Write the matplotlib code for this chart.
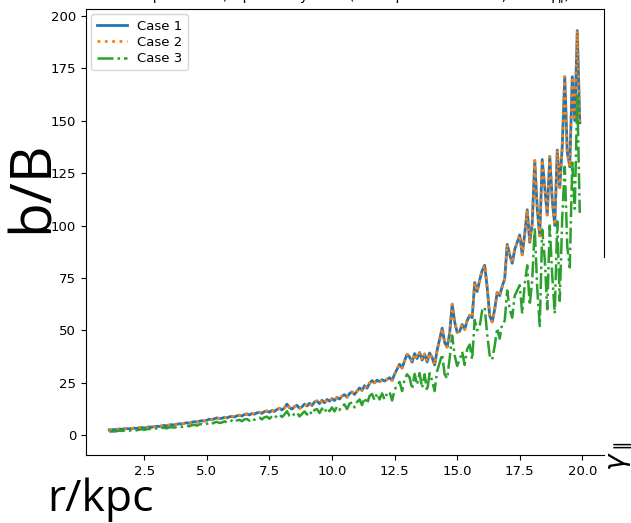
import numpy as np
import matplotlib
matplotlib.use("Agg")
import matplotlib.pyplot as plt

# radius grid (kpc), 0.1 kpc steps
r = np.round(np.arange(1.1, 19.95, 0.1), 2)

case1 = [
    2.5, 2.6, 2.6, 2.7, 2.9, 2.8, 3.0, 3.1, 3.0, 3.2,
    3.3, 3.2, 3.5, 3.6, 3.4, 3.7, 3.9, 3.8, 4.0, 4.2,
    4.1, 4.4, 4.6, 4.4, 4.8, 5.0, 4.8, 5.2, 5.4, 5.3,
    5.6, 5.9, 5.7, 6.1, 6.4, 6.2, 6.6, 6.9, 6.7, 7.1,
    7.6, 7.3, 7.8, 8.2, 7.9, 8.0, 8.5, 8.2, 8.7, 9.0,
    8.6, 9.2, 9.5, 9.1, 9.8, 10.1, 9.6, 10.3, 10.0, 10.6,
    10.9, 10.4, 11.2, 11.5, 10.9, 11.8, 11.3, 12.2, 12.8, 12.0,
    13.0, 14.8, 13.1, 12.4, 13.6, 14.2, 12.8, 13.5, 14.8, 13.9,
    15.2, 14.1, 15.8, 16.3, 15.0, 16.6, 15.4, 17.0, 16.2, 17.4,
    16.5, 18.0, 17.2, 18.6, 19.3, 18.1, 19.8, 20.6, 19.4, 21.0,
    22.5, 21.3, 23.6, 22.4, 24.8, 26.0, 24.9, 26.2, 25.5, 26.4,
    25.8, 26.6, 27.4, 26.1, 29.0, 31.5, 33.8, 32.0, 35.5, 38.6,
    37.2, 34.8, 38.9, 36.5, 39.4, 35.8, 38.7, 34.9, 39.2, 37.0,
    33.5, 40.5, 45.8, 51.0, 44.2, 42.0, 48.5, 62.5, 54.0, 49.0,
    49.5, 52.8, 50.4, 54.6, 57.2, 56.0, 72.8, 68.5, 74.0, 78.5,
    81.0, 70.5, 57.0, 54.0, 60.0, 68.0, 66.5, 71.0, 74.5, 91.0,
    86.0, 82.0, 88.5, 92.0, 95.5, 86.0, 96.0, 107.5, 92.0, 101.0,
    131.0, 108.0, 95.0, 131.5, 118.0, 105.0, 133.0, 112.0, 100.0, 136.0,
    118.0, 138.0, 171.0, 135.0, 128.0, 171.0, 150.0, 193.0, 149.0,
]

# case 2 lies exactly on top of case 1
case2 = list(case1)

case3 = [
    1.6, 1.8, 1.7, 1.9, 2.1, 2.0, 2.2, 2.3, 2.1, 2.4,
    2.5, 2.3, 2.6, 2.8, 2.5, 2.8, 3.0, 2.7, 3.1, 3.2,
    3.0, 3.4, 3.5, 3.2, 3.7, 3.8, 3.5, 4.0, 4.1, 3.9,
    4.3, 4.5, 4.2, 4.7, 4.9, 4.5, 5.1, 5.3, 4.9, 5.4,
    5.9, 5.4, 6.0, 6.3, 5.8, 6.0, 6.6, 6.0, 6.7, 6.9,
    6.2, 7.0, 7.3, 6.6, 7.5, 7.7, 6.9, 7.9, 7.3, 8.1,
    8.3, 7.5, 8.5, 8.8, 7.8, 9.0, 8.1, 9.3, 9.9, 8.6,
    9.8, 11.4, 9.2, 8.7, 10.2, 10.8, 8.9, 10.1, 11.3, 9.8,
    11.5, 9.9, 12.0, 12.4, 10.5, 12.7, 10.8, 13.0, 11.4, 13.2,
    11.3, 13.6, 12.0, 14.1, 14.6, 12.4, 15.0, 15.6, 13.2, 15.8,
    17.0, 14.3, 17.8, 15.0, 18.7, 19.6, 16.7, 19.8, 17.0, 19.9,
    17.0, 20.0, 20.6, 16.5, 21.5, 23.8, 25.4, 21.0, 26.8, 29.0,
    27.5, 22.0, 29.2, 24.0, 29.6, 22.5, 29.0, 21.0, 29.5, 26.0,
    21.0, 30.5, 34.5, 38.5, 29.0, 27.0, 36.5, 47.5, 38.0, 33.0,
    36.0, 39.8, 33.5, 41.0, 43.2, 36.0, 55.0, 50.0, 52.0, 59.5,
    61.0, 48.0, 38.0, 36.0, 42.5, 51.0, 46.0, 53.0, 54.5, 69.0,
    60.0, 56.0, 66.5, 69.0, 71.5, 58.0, 72.0, 81.0, 62.0, 74.0,
    99.0, 70.0, 52.0, 98.0, 84.0, 60.0, 100.0, 76.0, 58.0, 102.0,
    64.0, 104.0, 128.0, 90.0, 80.0, 130.0, 108.0, 162.0, 106.0,
]

labels = ["Case 1", "Case 2", "Case 3"]
xticks = [2.5, 5.0, 7.5, 10.0, 12.5, 15.0, 17.5, 20.0]
yticks = [0, 25, 50, 75, 100, 125, 150, 175, 200]

fig = plt.figure(figsize=(6.31, 5.23), dpi=100)
ax = fig.add_axes([0.1363, 0.130, 0.821, 0.8528])

ax.plot(r, case1, color="#1f77b4", linestyle="-", linewidth=2, label=labels[0])
ax.plot(r, case2, color="#ff7f0e", linestyle=":", linewidth=2, label=labels[1])
ax.plot(r, case3, color="#2ca02c", linestyle="-.", linewidth=1.8, label=labels[2])

ax.set_xlim(0.17, 20.87)
ax.set_ylim(-9.5, 203.3)
ax.set_xticks(xticks)
ax.set_yticks(yticks)
ax.tick_params(labelsize=9.5, length=3.5)

# right border only covers the upper part of the frame
ax.spines["right"].set_bounds(85, 203.3)

ax.legend(loc="upper left", fontsize=9.5, handlelength=2.3,
          labelspacing=0.25, borderaxespad=0.4)

# title sits above the canvas, only its descenders show
fig.text(0.548, 1.0, "Comparative b/B profile by case (three parameter sets, fixed γ∥)",
         ha="center", va="baseline", fontsize=10)

fig.text(0.052, 0.644, "b/B", rotation=90, ha="center", va="center",
         fontsize=41, family="Open Sans")
fig.text(0.0745, 0.023, "r/kpc", ha="left", va="baseline",
         fontsize=32, family="Open Sans")
fig.text(0.985, 0.128, r"$\gamma_\parallel$", rotation=90, ha="center", va="center",
         fontsize=20)

fig.savefig("out.png", dpi=100)
plt.close(fig)
